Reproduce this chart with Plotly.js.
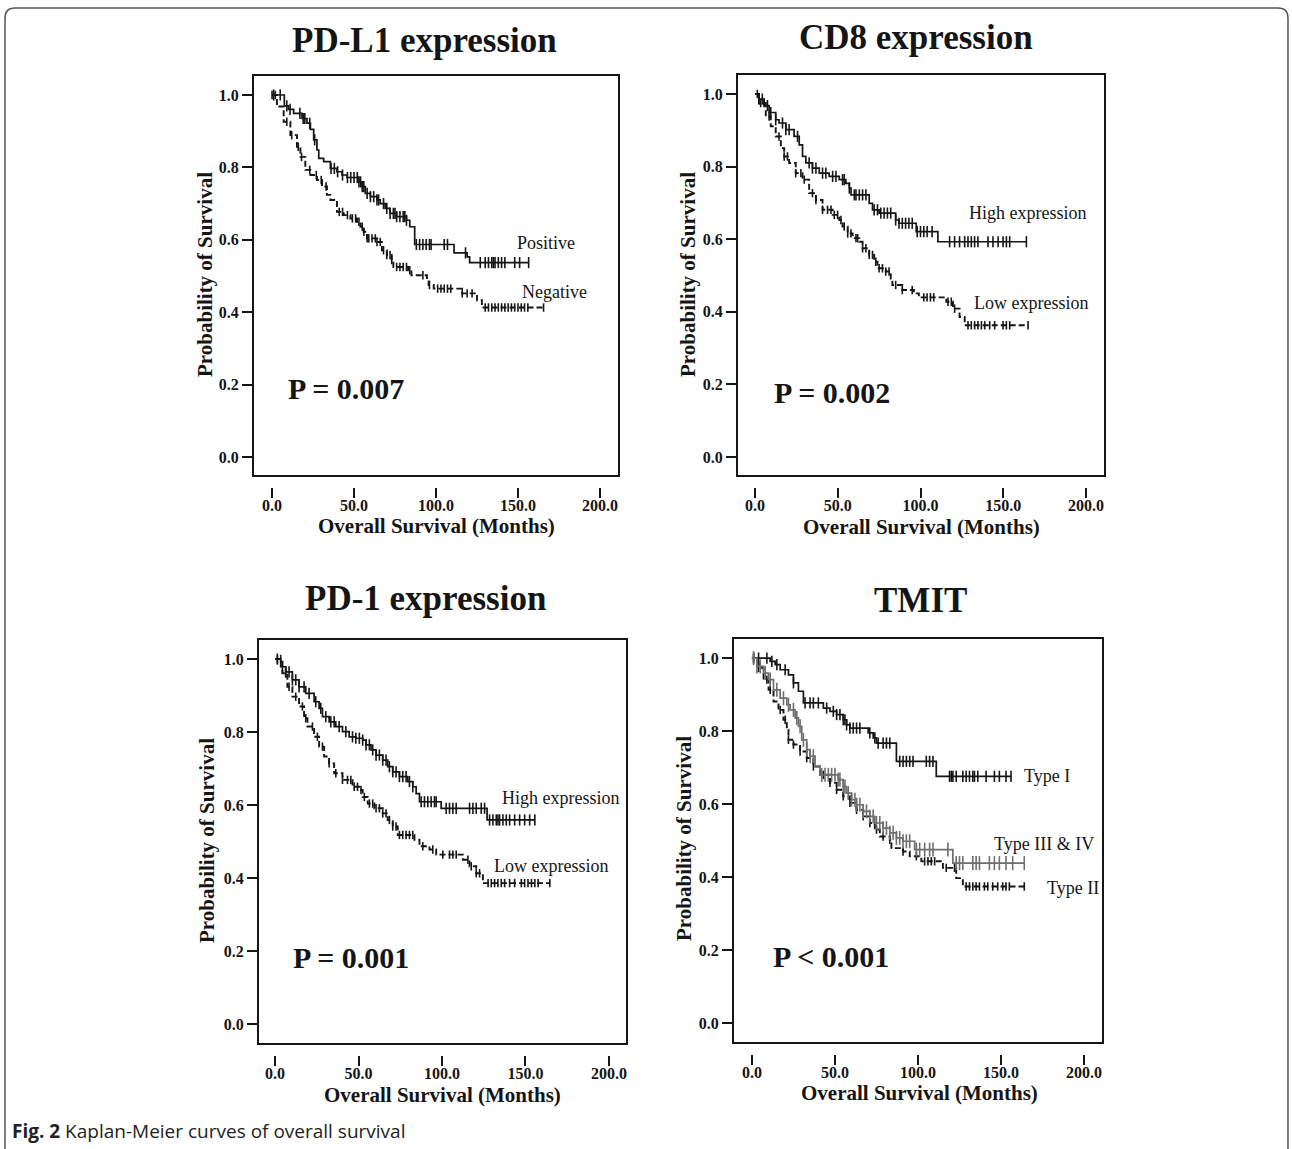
<!DOCTYPE html>
<html><head><meta charset="utf-8">
<script src="https://cdn.plot.ly/plotly-3.0.1.min.js"></script>
<style>html,body{margin:0;padding:0;background:#fff}</style>
</head><body><div id="chart" style="width:1292px;height:1149px"></div>
<script>
// ---------------- DATA ----------------
const xTickVals = [0, 50, 100, 150, 200];
const xTickText = ['0.0', '50.0', '100.0', '150.0', '200.0'];
const yTickVals = [0, 0.2, 0.4, 0.6, 0.8, 1.0];
const yTickText = ['0.0', '0.2', '0.4', '0.6', '0.8', '1.0'];

const panelTitles = ['PD-L1 expression', 'CD8 expression', 'PD-1 expression', 'TMIT'];
const pValues = ['P = 0.007', 'P = 0.002', 'P = 0.001', 'P < 0.001'];
const xAxisTitle = 'Overall Survival (Months)';
const yAxisTitle = 'Probability of Survival';
const caption = '<b>Fig. 2</b> Kaplan-Meier curves of overall survival';

// PD-L1
const pdl1PosT = [0, 7.5, 10, 13.2, 18.3, 21.3, 23.4, 25.4, 27.4, 28.5, 31.5, 35.6, 39.6, 42.7, 45.7, 52.8, 54.9, 56.9, 60, 64, 66, 69, 72, 76, 82, 84, 87, 111, 119, 120.5];
const pdl1PosS = [1.0, 0.97, 0.96, 0.949, 0.935, 0.922, 0.905, 0.876, 0.848, 0.825, 0.816, 0.797, 0.788, 0.779, 0.772, 0.76, 0.747, 0.728, 0.719, 0.71, 0.70, 0.687, 0.673, 0.664, 0.654, 0.636, 0.587, 0.564, 0.553, 0.537];
const pdl1PosC = [1, 5, 9, 11, 17, 19, 20, 23, 26, 36, 38, 40, 43, 46, 48, 50, 52, 53, 54, 55, 56, 58, 60, 62, 64, 65, 68, 70, 72, 74, 75, 76, 78, 80, 81, 82, 88, 90, 92, 94, 96, 97, 105, 107, 118, 127, 130, 132, 134, 135, 136, 138, 140, 142, 148, 151, 156.5];
const pdl1NegT = [0, 3, 7.1, 11.2, 15.2, 17.3, 20.3, 23.4, 27.4, 30.5, 33.5, 35.6, 39.6, 43.7, 47.8, 51.8, 53.9, 55.9, 57.9, 64, 67, 70, 73, 74, 83, 85, 94.5, 95.5, 98.6, 115.9, 125, 128];
const pdl1NegS = [1.0, 0.968, 0.926, 0.889, 0.857, 0.829, 0.793, 0.779, 0.765, 0.747, 0.724, 0.71, 0.677, 0.668, 0.659, 0.65, 0.636, 0.622, 0.604, 0.594, 0.571, 0.558, 0.544, 0.525, 0.516, 0.502, 0.488, 0.475, 0.465, 0.452, 0.433, 0.413];
const pdl1NegC = [0, 2, 9, 12, 16, 18, 23, 27, 30, 33, 41, 43, 46, 49, 51, 53, 55, 56, 58, 59, 61, 63, 64, 66, 68, 70, 72, 73, 76, 78, 80, 82, 84, 92, 96, 101, 103, 105, 107, 109, 116, 119, 122, 130, 132, 134, 136, 138, 140, 142, 144, 146, 148, 150, 152, 154, 156, 165.6];

// CD8
const cd8HighT = [0, 2.4, 5.5, 8.5, 12.5, 14.5, 18.6, 23.6, 26.7, 28.7, 30.7, 34.7, 38.8, 44.8, 50.9, 54.9, 57, 58, 69, 71, 75, 85, 87, 97.4, 110.5];
const cd8HighS = [1.0, 0.986, 0.968, 0.949, 0.929, 0.92, 0.902, 0.883, 0.86, 0.828, 0.81, 0.796, 0.782, 0.773, 0.764, 0.754, 0.741, 0.722, 0.699, 0.681, 0.672, 0.653, 0.644, 0.621, 0.593];
const cd8HighC = [2.4, 4.4, 7.5, 9.5, 12.5, 16.6, 18.6, 20.6, 25.7, 32.7, 34.7, 36.8, 40.8, 42.8, 46.9, 48.9, 52.9, 53.9, 57, 60, 61, 63, 65, 67, 72, 74, 76, 78, 80, 82, 85, 87, 89, 91, 93, 95, 98, 100, 102, 104, 107, 117.6, 120.6, 123.6, 126.7, 128.7, 130.7, 132.7, 134.7, 140.8, 143.8, 146.9, 149.9, 151.9, 153.9, 164];
const cd8LowT = [0, 2.4, 6.5, 9.5, 12.5, 15.6, 17.6, 20.6, 24.6, 28.7, 32.7, 36.8, 40.8, 46.9, 50.9, 52.9, 56, 59, 63, 65, 69, 72, 74, 79, 82, 83, 89, 96, 99, 115.6, 119.6, 123.6, 126.7];
const cd8LowS = [1.0, 0.975, 0.938, 0.911, 0.883, 0.851, 0.828, 0.81, 0.782, 0.764, 0.727, 0.708, 0.681, 0.667, 0.653, 0.635, 0.616, 0.603, 0.593, 0.575, 0.557, 0.538, 0.52, 0.511, 0.492, 0.474, 0.46, 0.451, 0.44, 0.428, 0.409, 0.386, 0.363];
const cd8LowC = [1.4, 3.4, 5.5, 8.5, 14.5, 17.6, 19.6, 24.6, 27.7, 29.7, 34.7, 36.8, 40.8, 43.8, 45.9, 47.9, 49.9, 51.9, 53.9, 56, 58, 61, 62, 65, 67, 69, 71, 73, 75, 77, 79, 81, 85, 89, 95, 102, 104, 106, 108, 116.6, 118.6, 120.6, 128.7, 130.7, 132.7, 134.7, 136.8, 138.8, 141.8, 144.8, 149.9, 151.9, 153.9, 165];

// PD-1
const pd1HighT = [0, 3.4, 6.4, 10.4, 14.4, 18.4, 23.4, 26.4, 28.4, 32.4, 36.4, 40.4, 44.4, 48.4, 52.5, 54.5, 57.5, 60.5, 64.5, 67.5, 70.5, 74.5, 79.5, 82.5, 84.5, 86.5, 99.5, 127];
const pd1HighS = [1.0, 0.979, 0.965, 0.943, 0.924, 0.906, 0.883, 0.865, 0.842, 0.828, 0.815, 0.801, 0.787, 0.783, 0.778, 0.765, 0.751, 0.737, 0.723, 0.705, 0.691, 0.678, 0.664, 0.65, 0.631, 0.609, 0.591, 0.559];
const pd1HighC = [1.4, 4.4, 6.4, 8.4, 10.4, 12.4, 14.4, 17.4, 20.4, 24.4, 27.4, 30.4, 33.4, 35.4, 38.4, 42.4, 46.4, 48.4, 50.5, 52.5, 54.5, 56.5, 58.5, 60.5, 62.5, 64.5, 66.5, 68.5, 70.5, 72.5, 74.5, 76.5, 78.5, 80.5, 82.5, 87.5, 89.5, 91.5, 93.5, 95.5, 96.5, 102.5, 104.5, 106.5, 108.5, 116.5, 118.5, 120.5, 123.5, 125.5, 128.5, 130.5, 132.5, 133.5, 134.5, 136.5, 138.5, 140.5, 143.5, 146.5, 149.5, 152.5, 155.6];
const pd1LowT = [0, 4.4, 7.4, 10.4, 14.4, 17.4, 19.4, 23.4, 26.4, 29.4, 32.4, 35.4, 40.4, 46.4, 50.5, 52.5, 55.5, 59.5, 64.5, 67.5, 70.5, 73.5, 83.5, 86.5, 92.5, 96.5, 112.5, 116.5, 120.5, 124.5];
const pd1LowS = [1.0, 0.961, 0.924, 0.897, 0.87, 0.838, 0.815, 0.787, 0.76, 0.733, 0.714, 0.687, 0.669, 0.65, 0.641, 0.622, 0.604, 0.591, 0.577, 0.559, 0.541, 0.518, 0.505, 0.487, 0.478, 0.464, 0.45, 0.432, 0.413, 0.386];
const pd1LowC = [1.4, 3.4, 6.4, 8.4, 12.4, 16.4, 18.4, 22.4, 25.4, 28.4, 32.4, 36.4, 40.4, 43.4, 45.4, 47.4, 49.4, 51.5, 53.5, 56.5, 58.5, 60.5, 62.5, 64.5, 66.5, 68.5, 70.5, 72.5, 74.5, 76.5, 78.5, 80.5, 82.5, 88.5, 94.5, 100.5, 104.5, 106.5, 108.5, 115.5, 117.5, 120.5, 122.5, 127.6, 129.5, 131.5, 133.5, 135.5, 137.5, 140.5, 143.5, 147.5, 149.5, 151.5, 153.6, 155.6, 157.6, 164.6];

// TMIT
const tmit1T = [0, 11, 14, 17, 22, 25, 28, 31, 43, 47, 51, 55, 57, 59, 70, 73, 75, 87, 111];
const tmit1S = [1.0, 0.991, 0.982, 0.968, 0.954, 0.932, 0.909, 0.877, 0.863, 0.854, 0.845, 0.831, 0.817, 0.808, 0.795, 0.781, 0.767, 0.717, 0.676];
const tmit1C = [1, 4, 9, 12, 15, 20, 25, 32, 35, 37, 40, 45, 49, 51, 53, 55, 56, 57, 59, 61, 63, 65, 71, 74, 76, 79, 81, 83, 89, 91, 93, 95, 97, 105, 107, 109, 119, 120, 121, 123, 127, 129, 131, 133, 134, 136, 141, 146, 149, 153, 156];
const tmit34T = [0, 3, 7, 10, 13, 17, 21, 23, 26, 28, 30, 33, 35, 38, 41, 52, 55, 57, 60, 63, 67, 71, 74, 79, 83, 87, 91, 98, 121];
const tmit34S = [1.0, 0.977, 0.959, 0.941, 0.913, 0.89, 0.872, 0.858, 0.836, 0.813, 0.776, 0.749, 0.731, 0.703, 0.68, 0.667, 0.648, 0.63, 0.612, 0.598, 0.58, 0.566, 0.548, 0.534, 0.521, 0.507, 0.498, 0.475, 0.438];
const tmit34C = [1, 3, 5, 8, 11, 15, 19, 22, 25, 27, 29, 31, 33, 35, 37, 42, 44, 46, 48, 50, 52, 53, 55, 56, 58, 60, 62, 63, 65, 67, 69, 71, 73, 75, 77, 79, 81, 83, 85, 87, 89, 91, 93, 95, 99, 101, 104, 107, 109, 118, 123, 125, 127, 133, 135, 137, 143, 146, 149, 153, 157, 164];
const tmit2T = [0, 4, 7, 10, 13, 16, 19, 21, 22, 25, 29, 33, 37, 41, 47, 51, 55, 59, 63, 67, 71, 74, 77, 83, 84, 91, 95, 102, 115, 123, 127];
const tmit2S = [1.0, 0.973, 0.941, 0.913, 0.881, 0.858, 0.831, 0.804, 0.776, 0.763, 0.744, 0.726, 0.703, 0.68, 0.658, 0.639, 0.621, 0.603, 0.584, 0.566, 0.548, 0.53, 0.511, 0.502, 0.479, 0.47, 0.457, 0.443, 0.425, 0.397, 0.374];
const tmit2C = [1, 4, 9, 11, 17, 20, 22, 25, 29, 33, 37, 43, 47, 51, 55, 59, 63, 67, 71, 75, 79, 83, 91, 99, 104, 106, 108, 110, 117, 122, 129, 131, 133, 135, 137, 140, 142, 145, 148, 151, 153, 155, 164];

// Curve labels
const curveLabels = [
  ['Positive', 'Negative'],
  ['High expression', 'Low expression'],
  ['High expression', 'Low expression'],
  ['Type I', 'Type III &amp; IV', 'Type II']
];

// ---------------- LAYOUT (pixel geometry) ----------------
const W = 1292, H = 1149;
const panels = [
  {l:253, r:619, t:75,  b:476,  tick:487,  xr:[-11.6, 211.6], yr:[-0.0525, 1.0552], title:[424, 40],  ytitle:[205, 275], xtitle:[436, 526]},
  {l:737, r:1105, t:74, b:476,  tick:487,  xr:[-10.9, 211.5], yr:[-0.052, 1.055],  title:[916, 38],  ytitle:[688, 275], xtitle:[921, 527]},
  {l:258, r:627, t:639, b:1044, tick:1055, xr:[-10.2, 210.8], yr:[-0.055, 1.055],  title:[425, 598], ytitle:[207, 841], xtitle:[442, 1095]},
  {l:733, r:1103, t:638, b:1043, tick:1054, xr:[-11.4, 211.4], yr:[-0.055, 1.055], title:[920, 600], ytitle:[684, 839], xtitle:[919, 1093]}
];
const labelPos = [
  [[148.2, 0.591], [151.2, 0.456]],
  [[128, 0.672], [131, 0.424]],
  [[134.7, 0.619], [130, 0.433]],
  [[162.7, 0.677], [144.6, 0.49], [176.5, 0.37]]
];
const pPos = [[45, 0.19], [46.5, 0.179], [45.5, 0.181], [47.6, 0.181]];

const SERIF = 'Liberation Serif, Times New Roman, serif';
const INK = '#151515';

function survAt(t, T, S) {
  let v = S[0];
  for (let i = 0; i < T.length; i++) { if (T[i] <= t) v = S[i]; }
  return v;
}
function curve(T, S, C, k, color, dash, msize, lw) {
  const xa = k === 0 ? 'x' : 'x' + (k + 1);
  const ya = k === 0 ? 'y' : 'y' + (k + 1);
  const end = Math.max(Math.max(...C), T[T.length - 1]);
  const line = {
    type: 'scatter', mode: 'lines', xaxis: xa, yaxis: ya,
    x: T.concat([end]), y: S.concat([S[S.length - 1]]),
    line: {shape: 'hv', color: color, width: lw, dash: dash},
    hoverinfo: 'skip', showlegend: false
  };
  const marks = {
    type: 'scatter', mode: 'markers', xaxis: xa, yaxis: ya,
    x: C, y: C.map(t => survAt(t, T, S)),
    marker: {symbol: 'line-ns-open', size: msize, color: color, line: {color: color, width: 1.6}},
    hoverinfo: 'skip', showlegend: false
  };
  return [line, marks];
}

const traces = [].concat(
  curve(pdl1PosT, pdl1PosS, pdl1PosC, 0, INK, 'solid', 8, 1.7),
  curve(pdl1NegT, pdl1NegS, pdl1NegC, 0, INK, '6px,3px', 6, 1.9),
  curve(cd8HighT, cd8HighS, cd8HighC, 1, INK, 'solid', 8, 1.7),
  curve(cd8LowT, cd8LowS, cd8LowC, 1, INK, '6px,3px', 6, 1.9),
  curve(pd1HighT, pd1HighS, pd1HighC, 2, INK, 'solid', 8, 1.7),
  curve(pd1LowT, pd1LowS, pd1LowC, 2, INK, '6px,3px', 6, 1.9),
  curve(tmit1T, tmit1S, tmit1C, 3, INK, 'solid', 8, 1.7),
  curve(tmit2T, tmit2S, tmit2C, 3, INK, '6px,3px', 6, 1.9),
  curve(tmit34T, tmit34S, tmit34C, 3, '#6e6e6e', 'solid', 10, 1.7)
);

const layout = {
  width: W, height: H,
  margin: {l: 0, r: 0, t: 0, b: 0},
  paper_bgcolor: '#fff', plot_bgcolor: '#fff',
  showlegend: false,
  shapes: [], annotations: []
};

const px = x => x / W, py = y => 1 - y / H;

panels.forEach((p, k) => {
  const sx = k === 0 ? '' : String(k + 1);
  layout['xaxis' + sx] = {
    domain: [px(p.l), px(p.r)], range: p.xr, anchor: 'free', position: py(p.tick),
    showline: false, showgrid: false, zeroline: false,
    ticks: 'outside', ticklen: 10, tickwidth: 2, tickcolor: INK,
    tickvals: xTickVals, ticktext: xTickText, ticklabelstandoff: -6,
    tickfont: {family: SERIF, size: 16, color: INK, weight: 'bold'}
  };
  layout['yaxis' + sx] = {
    domain: [py(p.b), py(p.t)], range: p.yr, anchor: 'x' + sx,
    showline: false, showgrid: false, zeroline: false,
    ticks: 'outside', ticklen: 10, tickwidth: 2, tickcolor: INK,
    tickvals: yTickVals, ticktext: yTickText,
    tickfont: {family: SERIF, size: 16, color: INK, weight: 'bold'}
  };
  layout.shapes.push({
    type: 'rect', xref: 'x' + sx + ' domain', yref: 'y' + sx + ' domain',
    x0: 0, x1: 1, y0: 0, y1: 1, line: {color: INK, width: 2}
  });
  // panel title
  layout.annotations.push({
    xref: 'paper', yref: 'paper', x: px(p.title[0]), y: py(p.title[1]),
    xanchor: 'center', yanchor: 'middle', showarrow: false, text: panelTitles[k],
    font: {family: SERIF, size: 35, color: INK, weight: 'bold'}
  });
  // y-axis title
  layout.annotations.push({
    xref: 'paper', yref: 'paper', x: px(p.ytitle[0]), y: py(p.ytitle[1]),
    xanchor: 'center', yanchor: 'middle', showarrow: false, textangle: -90, text: yAxisTitle,
    font: {family: SERIF, size: 21, color: INK, weight: 'bold'}
  });
  // x-axis title
  layout.annotations.push({
    xref: 'paper', yref: 'paper', x: px(p.xtitle[0]), y: py(p.xtitle[1]),
    xanchor: 'center', yanchor: 'middle', showarrow: false, text: xAxisTitle,
    font: {family: SERIF, size: 21, color: INK, weight: 'bold'}
  });
  // p-value
  layout.annotations.push({
    xref: 'x' + sx, yref: 'y' + sx, x: pPos[k][0], y: pPos[k][1],
    xanchor: 'center', yanchor: 'middle', showarrow: false, text: pValues[k],
    font: {family: SERIF, size: 30, color: INK, weight: 'bold'}
  });
  // curve labels
  curveLabels[k].forEach((lab, j) => {
    layout.annotations.push({
      xref: 'x' + sx, yref: 'y' + sx, x: labelPos[k][j][0], y: labelPos[k][j][1],
      xanchor: 'left', yanchor: 'middle', showarrow: false, text: lab,
      font: {family: SERIF, size: 18, color: INK}
    });
  });
});

// caption
layout.annotations.push({
  xref: 'paper', yref: 'paper', x: px(10), y: py(1131),
  xanchor: 'left', yanchor: 'middle', showarrow: false, text: caption,
  font: {family: 'Open Sans, Noto Sans, sans-serif', size: 19, color: '#222'}
});

// outer rounded frame (open at the bottom)
(function () {
  const L = 5, R = 1288, T = 8, rad = 10, B = 1160;
  const f = (x, y) => px(x).toFixed(5) + ',' + py(y).toFixed(5);
  const path = 'M' + f(L, B) + ' L' + f(L, T + rad) + ' Q' + f(L, T) + ' ' + f(L + rad, T) +
    ' L' + f(R - rad, T) + ' Q' + f(R, T) + ' ' + f(R, T + rad) + ' L' + f(R, B);
  layout.shapes.push({type: 'path', xref: 'paper', yref: 'paper', path: path, line: {color: '#555', width: 1.5}});
})();

Plotly.newPlot('chart', traces, layout, {staticPlot: true, displayModeBar: false});
</script></body></html>
